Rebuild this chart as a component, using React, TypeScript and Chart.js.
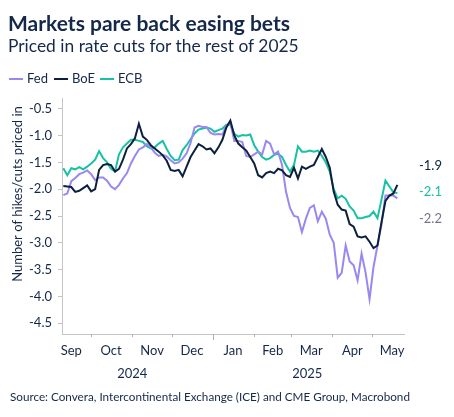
import React, { useEffect, useRef } from "react";
import { Chart, registerables } from "chart.js";

Chart.register(...registerables);

const dates = [
  "2024-09-10", "2024-09-13", "2024-09-16", "2024-09-19", "2024-09-22", "2024-09-25", "2024-09-28",
  "2024-10-01", "2024-10-04", "2024-10-07", "2024-10-10", "2024-10-13", "2024-10-16", "2024-10-19", "2024-10-22", "2024-10-25", "2024-10-28", "2024-10-31",
  "2024-11-03", "2024-11-06", "2024-11-09", "2024-11-12", "2024-11-15", "2024-11-18", "2024-11-21", "2024-11-24", "2024-11-27", "2024-11-30",
  "2024-12-03", "2024-12-06", "2024-12-09", "2024-12-12", "2024-12-15", "2024-12-18", "2024-12-21", "2024-12-24", "2024-12-27", "2024-12-30",
  "2025-01-02", "2025-01-05", "2025-01-08", "2025-01-11", "2025-01-14", "2025-01-17", "2025-01-20", "2025-01-23", "2025-01-26", "2025-01-29",
  "2025-02-01", "2025-02-04", "2025-02-07", "2025-02-10", "2025-02-13", "2025-02-16", "2025-02-19", "2025-02-22", "2025-02-25", "2025-02-28",
  "2025-03-03", "2025-03-06", "2025-03-09", "2025-03-12", "2025-03-15", "2025-03-18", "2025-03-21", "2025-03-24", "2025-03-27", "2025-03-30",
  "2025-04-02", "2025-04-05", "2025-04-08", "2025-04-11", "2025-04-14", "2025-04-17", "2025-04-20", "2025-04-23", "2025-04-26", "2025-04-29",
  "2025-05-02", "2025-05-05", "2025-05-08", "2025-05-11", "2025-05-14", "2025-05-17", "2025-05-20",
];

const fed = [
  -2.11, -2.08, -1.85, -1.79, -1.72, -1.69, -1.65,
  -1.72, -1.83, -1.78, -1.78, -1.84, -1.95, -2.0, -1.92, -1.8, -1.7, -1.52,
  -1.38, -1.26, -1.22, -1.16, -1.22, -1.32, -1.38, -1.36, -1.39, -1.46,
  -1.52, -1.5, -1.43, -1.33, -1.14, -0.85, -0.82, -0.84, -0.84, -0.95,
  -0.98, -0.97, -0.98, -0.81, -0.76, -1.1, -1.1, -1.12, -1.38, -1.4,
  -1.35, -1.3, -1.35, -1.1, -1.15, -1.35, -1.3, -1.55, -2.05, -2.35,
  -2.5, -2.52, -2.8, -2.55, -2.35, -2.3, -2.6, -2.42, -2.55, -2.85,
  -3.0, -3.65, -3.56, -3.05, -3.35, -3.42, -3.7, -3.2, -3.55, -4.05,
  -3.45, -3.05, -2.66, -2.12, -2.12, -2.12, -2.17,
];

const boe = [
  -1.94, -1.95, -1.96, -2.05, -2.03, -1.98, -1.93,
  -2.04, -2.0, -1.64, -1.55, -1.53, -1.55, -1.67, -1.62, -1.45, -1.24, -1.16,
  -1.05, -0.78, -1.02, -1.08, -1.18, -1.24, -1.3, -1.37, -1.47, -1.64,
  -1.66, -1.64, -1.76, -1.58, -1.4, -1.28, -1.16, -1.2, -1.26, -1.24,
  -1.33, -1.22, -1.08, -0.85, -0.72, -1.0, -1.15, -1.22, -1.28, -1.4,
  -1.52, -1.74, -1.78, -1.7, -1.67, -1.7, -1.62, -1.65, -1.74, -1.77,
  -1.6, -1.8, -1.58, -1.62, -1.58, -1.55, -1.4, -1.25, -1.4, -1.6,
  -2.05, -2.29, -2.38, -2.4, -2.65, -2.7, -2.88, -2.9, -2.88, -2.98,
  -3.1, -3.05, -2.62, -2.22, -2.12, -2.08, -1.92,
];

const ecb = [
  -1.61, -1.74, -1.61, -1.63, -1.59, -1.63, -1.58,
  -1.52, -1.45, -1.29, -1.42, -1.5, -1.62, -1.67, -1.35, -1.22, -1.15, -1.08,
  -1.08, -1.1, -1.12, -1.2, -1.24, -1.22, -1.15, -1.1, -1.25, -1.38,
  -1.46, -1.45, -1.27, -1.18, -1.07, -0.96, -0.89, -0.87, -0.85, -0.87,
  -0.93, -0.9, -0.87, -0.8, -0.8, -0.97, -1.02, -0.99, -1.0, -0.98,
  -1.18, -1.3, -1.4, -1.45, -1.42, -1.36, -1.34, -1.4, -1.55, -1.67,
  -1.55, -1.2, -1.3, -1.3, -1.28, -1.3, -1.28, -1.38, -1.5, -1.67,
  -2.0, -2.17, -2.12, -2.18, -2.32, -2.4, -2.54, -2.54, -2.52, -2.5,
  -2.42, -2.54, -2.2, -1.84, -1.95, -2.06, -2.07,
];

const yTicks = [-0.5, -1.0, -1.5, -2.0, -2.5, -3.0, -3.5, -4.0, -4.5];
const yMin = -4.7;
const yMax = -0.3;
const xMin = "2024-09-09";
const xMax = "2025-05-25";
const monthTickDates = ["2024-10-01", "2024-11-01", "2024-12-01", "2025-01-01", "2025-02-01", "2025-03-01", "2025-04-01", "2025-05-01"];
const monthNames = ["Sep", "Oct", "Nov", "Dec", "Jan", "Feb", "Mar", "Apr", "May"];
const monthCenters = ["2024-09-16", "2024-10-16", "2024-11-16", "2024-12-16", "2025-01-16", "2025-02-15", "2025-03-16", "2025-04-16", "2025-05-16"];
const yearNames = ["2024", "2025"];
const yearCenters = ["2024-11-01", "2025-03-13"];

const FED = "#9a88f2";
const BOE = "#0c1f3d";
const ECB = "#17c2a4";
const TEXT = "#14284a";
const AXIS = "#c4c4c4";
const FONT = "Lato";

function day(s: string): number {
  const [y, m, d] = s.split("-").map(Number);
  return Date.UTC(y, m - 1, d) / 86400000;
}

const series = [
  { label: "BoE", values: boe, color: BOE, labelColor: BOE },
  { label: "Fed", values: fed, color: FED, labelColor: "#77748c" },
  { label: "ECB", values: ecb, color: ECB, labelColor: ECB },
];

const decorPlugin = {
  id: "decor",
  afterDraw(chart: any) {
    const { ctx, chartArea } = chart;
    const xs = chart.scales.x;
    const ys = chart.scales.y;
    ctx.save();
    ctx.strokeStyle = "#b0b0b0";
    ctx.lineWidth = 1;
    monthTickDates.forEach((t) => {
      const px = Math.round(xs.getPixelForValue(day(t))) + 0.5;
      const len = t.endsWith("-01-01") ? 6 : 3;
      ctx.beginPath();
      ctx.moveTo(px, chartArea.bottom);
      ctx.lineTo(px, chartArea.bottom + len);
      ctx.stroke();
    });
    ctx.fillStyle = TEXT;
    ctx.font = `13px ${FONT}`;
    ctx.textAlign = "center";
    ctx.textBaseline = "alphabetic";
    monthNames.forEach((m, i) => {
      ctx.fillText(m, xs.getPixelForValue(day(monthCenters[i])), chartArea.bottom + 21);
    });
    yearNames.forEach((y, i) => {
      ctx.fillText(y, xs.getPixelForValue(day(yearCenters[i])), chartArea.bottom + 44);
    });
    ctx.save();
    ctx.translate(18, chartArea.top + 96);
    ctx.rotate(-Math.PI / 2);
    ctx.textBaseline = "middle";
    ctx.fillText("Number of hikes/cuts priced in", 0, 0);
    ctx.restore();
    const ends = series.map((s) => ({
      text: s.values[s.values.length - 1].toFixed(1),
      color: s.labelColor,
      py: ys.getPixelForValue(s.values[s.values.length - 1]),
    }));
    ends.sort((a, b) => a.py - b.py);
    const mean = ends.reduce((a, e) => a + e.py, 0) / ends.length;
    const gap = 26.5;
    ctx.textAlign = "left";
    ctx.textBaseline = "middle";
    ends.forEach((e, i) => {
      ctx.fillStyle = e.color;
      ctx.fillText(e.text, chartArea.right + 15, mean + (i - (ends.length - 1) / 2) * gap);
    });
    ctx.restore();
  },
};

export default function App() {
  const ref = useRef<HTMLCanvasElement>(null);

  useEffect(() => {
    if (!ref.current) return;
    const chart = new Chart(ref.current, {
      type: "line",
      data: {
        datasets: series.map((s, i) => ({
          label: s.label,
          data: dates.map((d, j) => ({ x: day(d), y: s.values[j] })),
          borderColor: s.color,
          backgroundColor: s.color,
          borderWidth: 2,
          pointRadius: 0,
          tension: 0,
          order: i,
        })),
      },
      options: {
        animation: false,
        responsive: false,
        layout: { padding: { top: 98, right: 50, bottom: 0, left: 0 } },
        plugins: { legend: { display: false }, tooltip: { enabled: false } },
        scales: {
          x: {
            type: "linear",
            min: day(xMin),
            max: day(xMax),
            ticks: { display: false },
            grid: { display: false },
            border: { display: true, color: AXIS, width: 1 },
            afterFit: (s: any) => {
              s.height = 83;
            },
          },
          y: {
            type: "linear",
            min: yMin,
            max: yMax,
            afterBuildTicks: (s: any) => {
              s.ticks = yTicks.map((v) => ({ value: v }));
            },
            ticks: {
              autoSkip: false,
              padding: 6,
              color: TEXT,
              font: { family: FONT, size: 13 },
              callback: (v: any) => Number(v).toFixed(1),
            },
            grid: { display: true, drawOnChartArea: false, drawTicks: true, tickLength: 4, color: AXIS },
            border: { display: true, color: AXIS, width: 1 },
            afterFit: (s: any) => {
              s.width = 62;
            },
          },
        },
      },
      plugins: [decorPlugin],
    } as any);
    return () => chart.destroy();
  }, []);

  const legendItems = [
    { label: "Fed", color: FED, sw: 9, tx: 27 },
    { label: "BoE", color: BOE, sw: 54, tx: 72 },
    { label: "ECB", color: ECB, sw: 100, tx: 118 },
  ];

  return (
    <div style={{ position: "absolute", left: 0, top: 0, width: 454, height: 417, fontFamily: FONT, color: TEXT, background: "#fff" }}>
      <canvas ref={ref} width={454} height={417} style={{ position: "absolute", left: 0, top: 0, width: 454, height: 417 }} />
      <div style={{ position: "absolute", left: 8, top: 10, fontSize: 21, lineHeight: "25.2px", fontWeight: 700, whiteSpace: "nowrap" }}>
        Markets pare back easing bets
      </div>
      <div style={{ position: "absolute", left: 8, top: 36, fontSize: 17.4, lineHeight: "20.9px", whiteSpace: "nowrap" }}>
        Priced in rate cuts for the rest of 2025
      </div>
      {legendItems.map((it) => (
        <React.Fragment key={it.label}>
          <div style={{ position: "absolute", left: it.sw, top: 78, width: 14, height: 2, background: it.color }} />
          <div style={{ position: "absolute", left: it.tx, top: 71, fontSize: 13, lineHeight: "15.6px", whiteSpace: "nowrap" }}>{it.label}</div>
        </React.Fragment>
      ))}
      <div style={{ position: "absolute", left: 10, top: 389, fontSize: 11.7, lineHeight: "14px", whiteSpace: "nowrap" }}>
        Source: Convera, Intercontinental Exchange (ICE) and CME Group, Macrobond
      </div>
    </div>
  );
}
